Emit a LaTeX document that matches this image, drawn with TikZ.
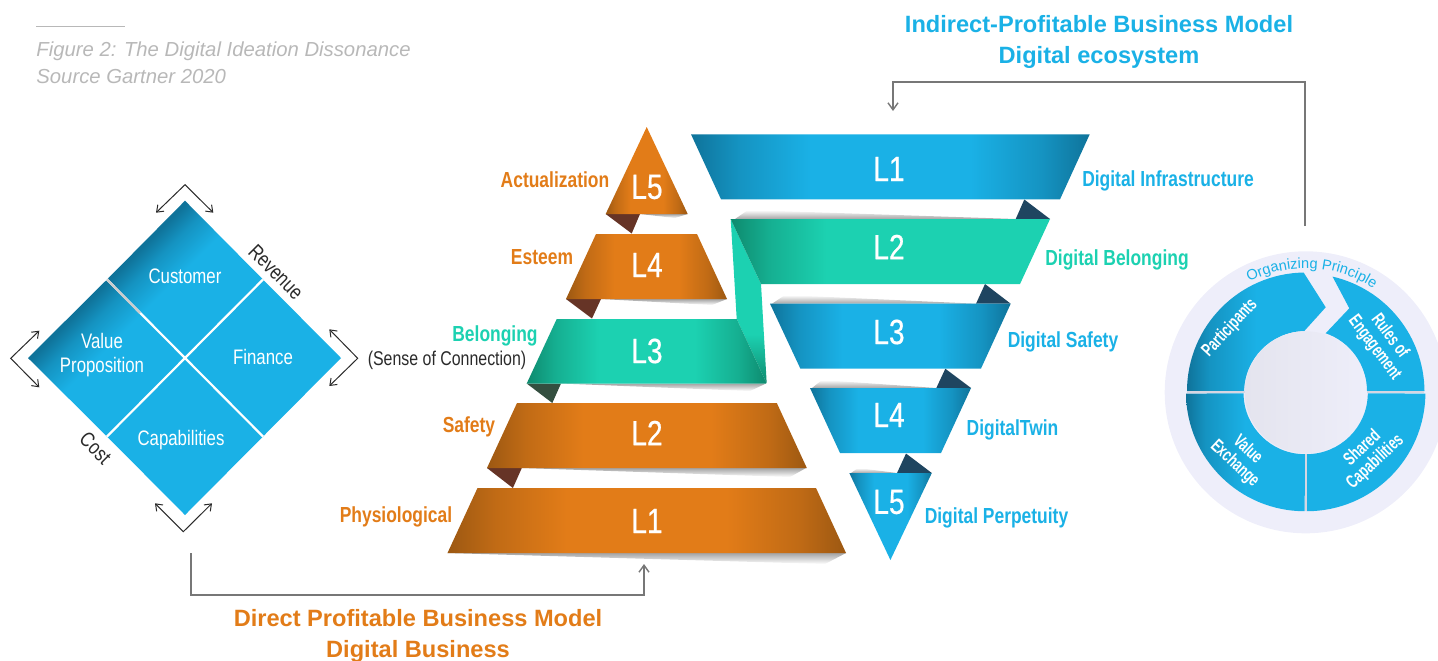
\documentclass[tikz,border=0pt]{standalone}
\usepackage{fontspec}
\setmainfont{Liberation Sans}
\newfontfamily\cond[FakeStretch=0.8]{Liberation Sans}
\newfontfamily\condL[FakeStretch=0.8,FakeBold=0.5]{Liberation Sans}
\newfontfamily\condN[FakeStretch=0.68]{Liberation Sans}
\usetikzlibrary{arrows.meta,decorations.text}
\definecolor{Ob}{HTML}{E27C18}\definecolor{Od}{HTML}{9C5812}\colorlet{Om}{Ob!52!Od}
\definecolor{Bb}{HTML}{1AB1E6}\definecolor{Bd}{HTML}{0F739A}\colorlet{Bm}{Bb!52!Bd}
\definecolor{Gb}{HTML}{1CD1B1}\definecolor{Gd}{HTML}{0E8A6E}\colorlet{Gm}{Gb!52!Gd}
\definecolor{FoldBrown}{HTML}{663426}\definecolor{FoldNavy}{HTML}{1F4560}\definecolor{FoldGreen}{HTML}{344F40}
\definecolor{Lav}{HTML}{EEEEFA}\definecolor{LavD}{HTML}{E4E4EE}\definecolor{GapC}{HTML}{D6D6E2}
\definecolor{Conn}{HTML}{777777}\definecolor{Capt}{HTML}{B8B8B8}\definecolor{Ink}{HTML}{2A2A2A}
\definecolor{Shad}{HTML}{A4A4A4}
\pgfdeclarehorizontalshading{ribO}{100bp}{color(0bp)=(Od); color(25bp)=(Od); color(31bp)=(Om); color(40bp)=(Ob); color(60bp)=(Ob); color(69bp)=(Om); color(75bp)=(Od); color(100bp)=(Od)}
\pgfdeclarehorizontalshading{ribB}{100bp}{color(0bp)=(Bd); color(25bp)=(Bd); color(31bp)=(Bm); color(40bp)=(Bb); color(60bp)=(Bb); color(69bp)=(Bm); color(75bp)=(Bd); color(100bp)=(Bd)}
\pgfdeclarehorizontalshading{ribG}{100bp}{color(0bp)=(Gd); color(25bp)=(Gd); color(31bp)=(Gm); color(40bp)=(Gb); color(60bp)=(Gb); color(69bp)=(Gm); color(75bp)=(Gd); color(100bp)=(Gd)}
\pgfdeclarehorizontalshading{ribGL}{100bp}{color(0bp)=(Gd); color(25bp)=(Gd); color(31bp)=(Gm); color(40bp)=(Gb); color(100bp)=(Gb)}
\pgfdeclarehorizontalshading{ringL}{100bp}{color(0bp)=(Bd); color(25bp)=(Bd); color(33bp)=(Bm); color(50bp)=(Bb); color(100bp)=(Bb)}
\pgfdeclarehorizontalshading{diaS}{100bp}{color(0bp)=(Bd); color(33bp)=(Bd); color(39bp)=(Bm); color(48bp)=(Bb); color(100bp)=(Bb)}
\pgfdeclareverticalshading{connG}{100bp}{color(0bp)=(Gd); color(25bp)=(Gd); color(40bp)=(Gb); color(100bp)=(Gb)}
\tikzset{
 x=0.5pt,y=-0.5pt,
 ribOr/.style={shade,shading=ribO},
 ribBl/.style={shade,shading=ribB},
 ribGr/.style={shade,shading=ribG},
 ribGrL/.style={shade,shading=ribGL},
 ringSh/.style={shade,shading=ringL},
 diaSh/.style={shade,shading=diaS,shading angle=-45},
 shadDown/.style={shade,top color=Shad,bottom color=white},
 shadUp/.style={shade,top color=white,bottom color=Shad},
 lvl/.style={text=white,font=\condL\fontsize{17.5}{19}\selectfont},
 lab/.style={font=\cond\bfseries\fontsize{10.9}{12}\selectfont},
 dia/.style={text=white,align=center,font=\cond\fontsize{10.5}{12.3}\selectfont},
 sideT/.style={text=Ink,font=\cond\fontsize{10.5}{12}\selectfont},
 sideS/.style={text=Ink,font=\cond\fontsize{9.95}{12}\selectfont},
 ringT/.style={text=white,align=center,font=\condN\bfseries\fontsize{9.2}{9.4}\selectfont},
 head/.style={font=\bfseries\fontsize{11.8}{14}\selectfont},
 capt/.style={text=Capt,anchor=west,inner sep=0pt,font=\itshape\fontsize{10.15}{12}\selectfont},
 brack/.style={draw=Ink,line width=0.5pt,{Straight Barb[length=3pt,width=4.5pt]}-{Straight Barb[length=3pt,width=4.5pt]}},
 conn/.style={draw=Conn,line width=0.7pt,-{Straight Barb[length=3.5pt,width=5pt]}},
 wl/.style={draw=white,line width=1.1pt}
}
\begin{document}
\begin{tikzpicture}
\useasboundingbox (0,0) rectangle (1438,660);
% caption
\coordinate (ruleA) at (36,26);\coordinate (ruleB) at (125,26);
\draw[draw=Capt,line width=0.4pt] (ruleA) -- (ruleB);
\node[capt] (capA) at (36,51) {Figure 2: The Digital Ideation Dissonance};
\node[capt] (capB) at (36,77) {Source Gartner 2020};
% headings
\node[head,text=Bb] (hTopA) at (1099,24.5) {Indirect-Profitable Business Model};
\node[head,text=Bb] (hTopB) at (1099,57) {Digital ecosystem};
\node[head,text=Ob] (hBotA) at (418,618.5) {Direct Profitable Business Model};
\node[head,text=Ob] (hBotB) at (418,651) {Digital Business};
% connectors
\coordinate (ringTop) at (1305,226);\coordinate (invTop) at (893,111);
\coordinate (diaBot) at (191,553);\coordinate (pyrBot) at (644,564);
\draw[conn] (ringTop) |- (1100,82) -| (invTop);
\draw[conn] (diaBot) |- (400,595) -| (pyrBot);
% diamond
\path[diaSh] (185,200.7) -- (263,279.5) -- (185,358) -- (107,279.5) -- cycle;
\path[diaSh] (107,279.5) -- (185,358) -- (107,436.5) -- (28,358) -- cycle;
\fill[Bb] (263,279.5) -- (341,358) -- (263,436.5) -- (185,358) -- cycle;
\fill[Bb] (185,358) -- (263,436.5) -- (185,515) -- (107,436.5) -- cycle;
\coordinate (dN) at (107,279.5);\coordinate (dE) at (263,279.5);\coordinate (dS) at (263,436.5);\coordinate (dW) at (107,436.5);
\draw[wl] (dN) -- (dS);\draw[wl] (dE) -- (dW);
\draw[draw=white!80!black,line width=1.1pt] (dN) -- (140,313);
\node[dia] (tCust) at (185,276) {Customer};
\node[dia] (tVal) at (102,355) {Value\\Proposition};
\node[dia] (tFin) at (263,357) {Finance};
\node[dia] (tCap) at (181,440) {Capabilities};
\node[sideT,rotate=-45] (tRev) at (276,272) {Revenue};
\node[sideT,rotate=-45] (tCost) at (95.5,448) {Cost};
\coordinate (bTa) at (156,212.7);\coordinate (bTm) at (185,184.7);\coordinate (bTb) at (213.3,212.7);
\coordinate (bRa) at (329.3,329.3);\coordinate (bRm) at (357.7,358.3);\coordinate (bRb) at (329.3,386);
\coordinate (bLa) at (39.3,330.7);\coordinate (bLm) at (10.7,358.3);\coordinate (bLb) at (39.3,387.3);
\coordinate (bBa) at (155,503.3);\coordinate (bBm) at (183.3,531.7);\coordinate (bBb) at (212,503.3);
\draw[brack] (bTa) -- (bTm) -- (bTb);
\draw[brack] (bRa) -- (bRm) -- (bRb);
\draw[brack] (bLa) -- (bLm) -- (bLb);
\draw[brack] (bBa) -- (bBm) -- (bBb);
% shadows
\path[shadDown] (640,214) -- (687.7,214) -- (675,218) -- cycle;
\path[shadDown] (601,299) -- (727,299) -- (712,305) -- cycle;
\path[shadDown] (561,383.5) -- (766,383.5) -- (750,391) -- cycle;
\path[shadDown] (522,468) -- (806,468) -- (790,477) -- cycle;
\path[shadDown] (447,553) -- (846,553) -- (825,564) -- cycle;
\path[shadUp] (748,210) -- (1015.7,219) -- (735,219) -- cycle;
\path[shadUp] (785,295) -- (976,303.7) -- (772,303.7) -- cycle;
\path[shadUp] (822,380) -- (936.3,388) -- (812,388) -- cycle;
\path[shadUp] (858,468) -- (897,473) -- (851,473) -- cycle;
% folds
\fill[FoldBrown] (605.7,214) -- (640,214) -- (631.7,233.5) -- cycle;
\fill[FoldBrown] (566,299) -- (601,299) -- (592,318.5) -- cycle;
\fill[FoldGreen] (526.7,383.5) -- (561,383.5) -- (552.3,403) -- cycle;
\fill[FoldBrown] (487,468) -- (521.8,468) -- (512.9,488) -- cycle;
\fill[FoldNavy] (1024.3,199.5) -- (1050,219) -- (1015.7,219) -- cycle;
\fill[FoldNavy] (985,284) -- (1010.7,303.7) -- (976,303.7) -- cycle;
\fill[FoldNavy] (945.3,368.7) -- (971,388) -- (936.3,388) -- cycle;
\fill[FoldNavy] (906,453.5) -- (931.8,473) -- (897,473) -- cycle;
% pyramid
\path[ribOr] (646.7,127) -- (687.7,214) -- (605.7,214) -- cycle;
\path[ribOr] (596,234) -- (697,234) -- (727,299) -- (566,299) -- cycle;
\path[shade,shading=connG] (730.7,219) -- (761,284) -- (766.7,383.5) -- (736.7,319) -- cycle;
\path[ribGr] (556.7,319) -- (736.7,319) -- (766.7,383.5) -- (526.7,383.5) -- cycle;
\path[ribOr] (517,403) -- (776.8,403) -- (806.8,468) -- (487,468) -- cycle;
\path[ribOr] (477.5,488) -- (816,488) -- (846,553) -- (447.5,553) -- cycle;
% inverted pyramid
\path[ribBl] (691,134.3) -- (1089.7,134.3) -- (1060,199.3) -- (721,199.3) -- cycle;
\path[ribGrL] (730.7,219) -- (1050,219) -- (1020,284) -- (761,284) -- cycle;
\path[ribBl] (770,303.7) -- (1010.7,303.7) -- (981,368.5) -- (800.3,368.5) -- cycle;
\path[ribBl] (810,388) -- (971,388) -- (941,453) -- (840,453) -- cycle;
\path[ribBl] (849.3,473) -- (931.8,473) -- (890.4,560) -- cycle;
% level labels
\node[lvl] (pL5) at (647,187) {L5};
\node[lvl] (pL4) at (647,265) {L4};
\node[lvl] (pL3) at (647,351) {L3};
\node[lvl] (pL2) at (647,433) {L2};
\node[lvl] (pL1) at (647,521) {L1};
\node[lvl] (iL1) at (889,169) {L1};
\node[lvl] (iL2) at (889,247) {L2};
\node[lvl] (iL3) at (889,332) {L3};
\node[lvl] (iL4) at (889,415) {L4};
\node[lvl] (iL5) at (889,502) {L5};
\node[lab,text=Ob] (lAct) at (555,180) {Actualization};
\node[lab,text=Ob] (lEst) at (542,257) {Esteem};
\node[lab,text=Gb] (lBel) at (495,336) {Belonging};
\node[sideS] (lSen) at (447,360) {(Sense of Connection)};
\node[lab,text=Ob] (lSaf) at (469,427) {Safety};
\node[lab,text=Ob] (lPhy) at (396,517) {Physiological};
\node[lab,text=Bb] (rInf) at (1168,181) {Digital Infrastructure};
\node[lab,text=Gb] (rBel) at (1117,260) {Digital Belonging};
\node[lab,text=Bb] (rSaf) at (1063,342) {Digital Safety};
\node[lab,text=Bb] (rTwi) at (1012.5,430) {DigitalTwin};
\node[lab,text=Bb] (rPer) at (996.5,518) {Digital Perpetuity};
% ring
\fill[Lav] (1305.7,392.3) circle[radius=141];
\path[ringSh] (1187,391.2) arc[start angle=180,end angle=269,radius=118.7] -- (1325.7,307.3) -- (1304.3,331) arc[start angle=269,end angle=180,radius=61.3] -- cycle;
\fill[Bb] (1332.5,276.6) arc[start angle=283,end angle=359.5,radius=118.7] -- (1367,391.2) arc[start angle=360,end angle=289,radius=61.3] -- (1349.3,308.3) -- cycle;
\path[ringSh] (1304.7,511.2) arc[start angle=90,end angle=179.5,radius=118.7] -- (1243.5,393.4) arc[start angle=179.5,end angle=90,radius=61.3] -- cycle;
\fill[Bb] (1306.7,511.2) arc[start angle=90,end angle=0.5,radius=118.7] -- (1367.8,393.4) arc[start angle=0.5,end angle=90,radius=61.3] -- cycle;
\path[shade,left color=LavD,right color=Lav] (1305.7,392.3) circle[radius=61];
\coordinate (gapW) at (1187,392.3);\coordinate (gapWi) at (1244.5,392.3);
\coordinate (gapE) at (1424.4,392.3);\coordinate (gapEi) at (1367,392.3);
\coordinate (gapS) at (1305.7,511);\coordinate (gapSi) at (1305.7,453.6);
\draw[draw=GapC,line width=1pt] (gapW) -- (gapWi) (gapE) -- (gapEi) (gapS) -- (gapSi);
\node[ringT,rotate=47] (tPart) at (1230,328) {Participants};
\node[ringT,rotate=-53] (tRule) at (1382,342) {Rules of\\Engagement};
\node[ringT,rotate=-43] (tValE) at (1241,457) {Value\\Exchange};
\node[ringT,rotate=43] (tShar) at (1369,455) {Shared\\Capabilities};
\path[decorate,decoration={text along path,text align=center,text={|\fontsize{7.3}{9}\selectfont\color{Bb}|Organizing Principle}}] (1249.4,281.8) arc[start angle=243,end angle=303,radius=124];
\end{tikzpicture}
\end{document}
